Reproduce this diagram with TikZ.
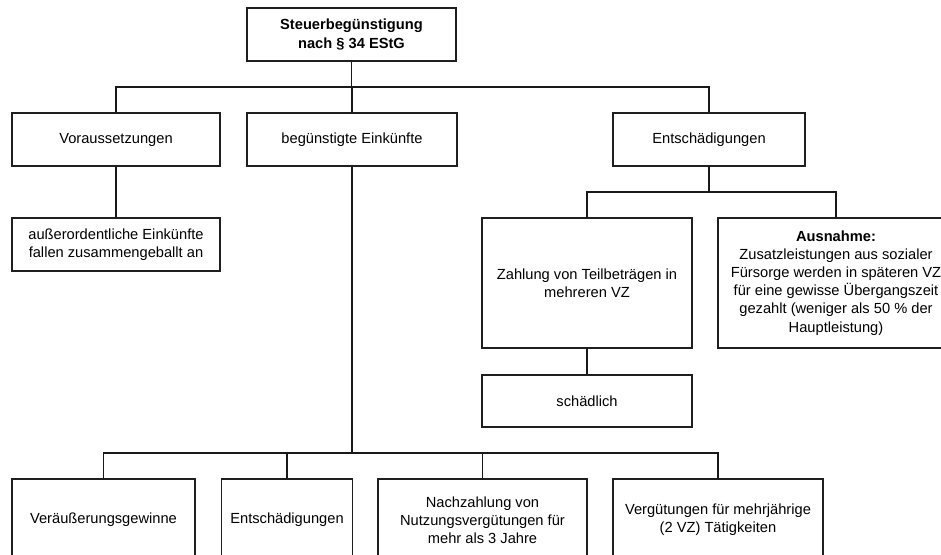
\documentclass[tikz,border=0pt]{standalone}
\usepackage{fontspec}
\setmainfont{Liberation Sans}
\begin{document}
\begin{tikzpicture}[x=0.75pt,y=-0.75pt,
  box/.style={draw=black!88,line width=0.8pt,rectangle,align=center,
    inner sep=0pt,font=\fontsize{11}{13.6}\selectfont},
  link/.style={draw=black!90,line width=0.8pt}]
\useasboundingbox (0,0) rectangle (941,555);
\clip (0,0) rectangle (941,555);

% boxes (positions in pixel units)
\node[box,minimum width=209*0.75pt,minimum height=53*0.75pt] (top) at (351.5,34.5)
  {\bfseries Steuerbegünstigung\\\bfseries nach § 34 EStG};
\node[box,minimum width=208*0.75pt,minimum height=53*0.75pt] (vor) at (116,139.5) {Voraussetzungen};
\node[box,minimum width=210*0.75pt,minimum height=53*0.75pt] (beg) at (352,139.5) {begünstigte Einkünfte};
\node[box,minimum width=192*0.75pt,minimum height=53*0.75pt] (ent) at (709,139.5) {Entschädigungen};
\node[box,minimum width=208*0.75pt,minimum height=53*0.75pt] (auss) at (116,244.5)
  {außerordentliche Einkünfte\\fallen zusammengeballt an};
\node[box,minimum width=210*0.75pt,minimum height=130*0.75pt] (zahl) at (587,283)
  {Zahlung von Teilbeträgen in\\mehreren VZ};
\node[box,minimum width=236*0.75pt,minimum height=130*0.75pt] (ausn) at (836,283)
  {\bfseries Ausnahme:\\Zusatzleistungen aus sozialer\\Fürsorge werden in späteren VZ\\
   für eine gewisse Übergangszeit\\gezahlt (weniger als 50 \% der\\Hauptleistung)};
\node[box,minimum width=210*0.75pt,minimum height=52*0.75pt] (schad) at (587,401) {schädlich};
\node[box,minimum width=183*0.75pt,minimum height=82*0.75pt] (b1) at (103.5,520) {Veräußerungsgewinne};
\node[box,minimum width=131*0.75pt,minimum height=82*0.75pt] (b2) at (287,520) {Entschädigungen};
\node[box,minimum width=209*0.75pt,minimum height=82*0.75pt] (b3) at (482.5,520)
  {Nachzahlung von\\Nutzungsvergütungen für\\mehr als 3 Jahre};
\node[box,minimum width=210*0.75pt,minimum height=82*0.75pt] (b4) at (718,520)
  {Vergütungen für mehrjährige\\(2 VZ) Tätigkeiten};

% bus lines
\coordinate (busA) at (0,87);
\coordinate (busB) at (0,192);
\coordinate (busC) at (0,453);

% first level
\draw[link] (top.south) -- (top.south |- busA);
\draw[link] (vor.north) -- (vor.north |- busA) -- (ent.north |- busA) -- (ent.north);
\draw[link] (beg.north) -- (beg.north |- busA);
\draw[link] (vor.south) -- (auss.north);

% compensation branch
\draw[link] (ent.south) -- (ent.south |- busB);
\draw[link] (zahl.north) -- (zahl.north |- busB) -- (ausn.north |- busB) -- (ausn.north);
\draw[link] (zahl.south) -- (schad.north);

% income categories
\draw[link] (beg.south) -- (beg.south |- busC);
\draw[link] (b1.north) -- (b1.north |- busC) -- (b4.north |- busC) -- (b4.north);
\draw[link] (b2.north) -- (b2.north |- busC);
\draw[link] (b3.north) -- (b3.north |- busC);
\end{tikzpicture}
\end{document}
